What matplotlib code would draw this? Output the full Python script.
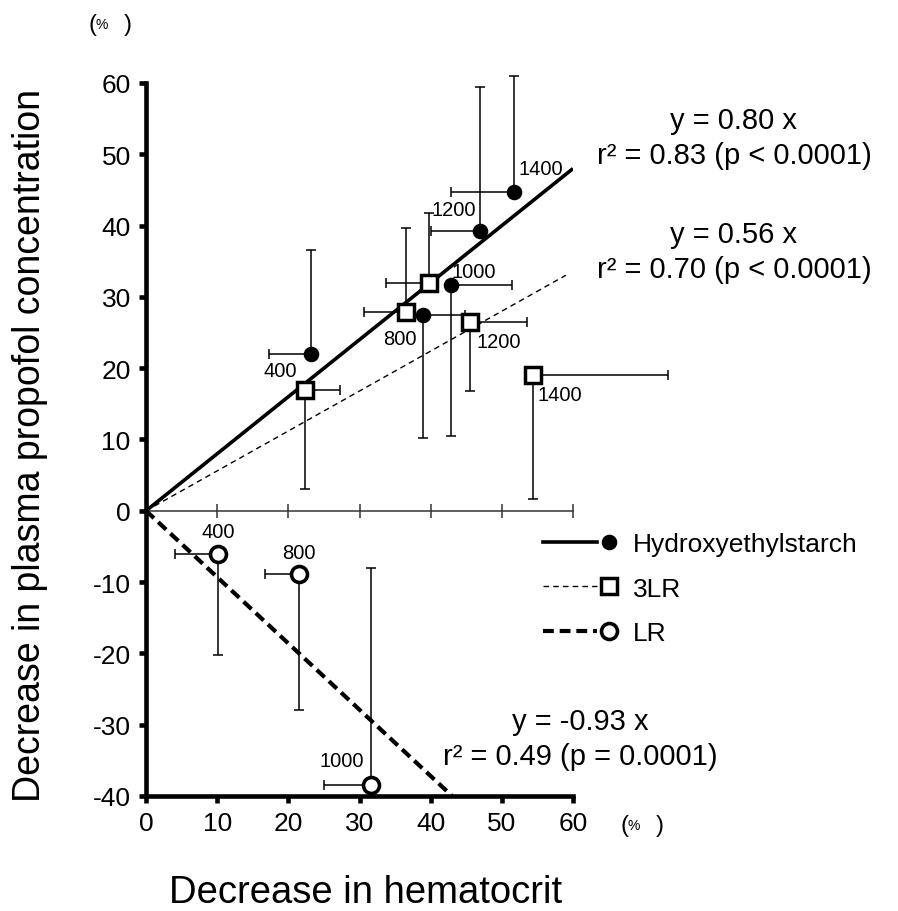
import matplotlib
matplotlib.use("Agg")
import matplotlib.pyplot as plt
from matplotlib.lines import Line2D
from matplotlib.legend_handler import HandlerBase

plt.rcParams['font.family'] = ['Liberation Sans', 'DejaVu Sans']
plt.rcParams['axes.unicode_minus'] = False

# Hydroxyethylstarch (filled circles)
hes_x = [23.2, 38.9, 42.8, 47.0, 51.7]
hes_y = [22.0, 27.4, 31.6, 39.2, 44.7]
hes_xerr_lo = [5.9, 0, 0, 7.0, 8.8]
hes_xerr_hi = [0, 5.9, 8.6, 0, 0]
hes_yerr_lo = [0, 17.2, 21.1, 0, 0]
hes_yerr_hi = [14.6, 0, 0, 20.2, 16.3]
hes_slope = 0.80
hes_fit_x = [0, 60]

# 3LR (open squares)
tlr_x = [22.3, 36.5, 39.8, 45.5, 54.4]
tlr_y = [17.0, 27.9, 32.0, 26.5, 19.1]
tlr_xerr_lo = [0, 5.8, 6.1, 0, 0]
tlr_xerr_hi = [4.9, 0, 0, 8.1, 18.9]
tlr_yerr_lo = [14.0, 0, 0, 9.7, 17.4]
tlr_yerr_hi = [0, 11.7, 9.7, 0, 0]
tlr_slope = 0.56
tlr_fit_x = [0, 59]

# LR (open circles)
lr_x = [10.1, 21.5, 31.6]
lr_y = [-6.0, -8.9, -38.5]
lr_xerr_lo = [6.0, 4.8, 6.6]
lr_xerr_hi = [0, 0, 0]
lr_yerr_lo = [14.2, 19.0, 0]
lr_yerr_hi = [0, 0, 30.5]
lr_slope = -0.93
lr_fit_x = [0, 43]

# dose labels: (text, x, y, offset in points)
dose_labels = [
    ("400", hes_x[0], hes_y[0], (-22, -12)),
    ("800", tlr_x[1], tlr_y[1], (-4, -19)),
    ("1000", hes_x[2], hes_y[2], (17, 10)),
    ("1200", hes_x[3], hes_y[3], (-19, 16)),
    ("1400", hes_x[4], hes_y[4], (19, 17)),
    ("1200", tlr_x[3], tlr_y[3], (21, -14)),
    ("1400", tlr_x[4], tlr_y[4], (19, -14)),
    ("400", lr_x[0], lr_y[0], (0, 16)),
    ("800", lr_x[1], lr_y[1], (0, 16)),
    ("1000", lr_x[2], lr_y[2], (-21, 18)),
]

fig = plt.figure(figsize=(8.98, 9.12), dpi=100)
ax = fig.add_axes([0.1626, 0.1261, 0.4755, 0.7818])
ax.set_xlim(0, 60)
ax.set_ylim(-40, 60)

hes_ls = '-'
tlr_ls = (0, (4, 3))
lr_ls = (0, (2.6, 1.4))

# regression lines
ax.plot(hes_fit_x, [hes_slope * v for v in hes_fit_x], color='black', lw=2.6,
        ls=hes_ls, solid_capstyle='butt', zorder=2)
ax.plot(tlr_fit_x, [tlr_slope * v for v in tlr_fit_x], color='black', lw=1.0,
        ls=tlr_ls, zorder=2)
ax.plot(lr_fit_x, [lr_slope * v for v in lr_fit_x], color='black', lw=3.0,
        ls=lr_ls, zorder=2)

# error bars (one-sided)
for xs, ys, xl, xh, yl, yh in [
        (hes_x, hes_y, hes_xerr_lo, hes_xerr_hi, hes_yerr_lo, hes_yerr_hi),
        (tlr_x, tlr_y, tlr_xerr_lo, tlr_xerr_hi, tlr_yerr_lo, tlr_yerr_hi),
        (lr_x, lr_y, lr_xerr_lo, lr_xerr_hi, lr_yerr_lo, lr_yerr_hi)]:
    eb = ax.errorbar(xs, ys, xerr=[xl, xh], yerr=[yl, yh], fmt='none', ecolor='black',
                     elinewidth=1.1, capsize=3.5, capthick=1.1, zorder=3)
    for a in eb.lines[1] + eb.lines[2]:
        a.set_clip_on(False)

# markers
hes_line, = ax.plot(hes_x, hes_y, 'o', ms=10.2, color='black', zorder=5, clip_on=False)
tlr_line, = ax.plot(tlr_x, tlr_y, 's', ms=11.8, mfc='white', mec='black', mew=2.5,
                    zorder=5, clip_on=False)
lr_line, = ax.plot(lr_x, lr_y, 'o', ms=11.5, mfc='white', mec='black', mew=2.6,
                   zorder=5, clip_on=False)

for txt, x, y, off in dose_labels:
    ax.annotate(txt, (x, y), xytext=off, textcoords='offset points',
                ha='center', va='center', fontsize=14.5)

# axes styling
for s in ['top', 'right']:
    ax.spines[s].set_visible(False)
ax.spines['left'].set_linewidth(3.3)
ax.spines['bottom'].set_linewidth(3.3)
ax.set_xticks(range(0, 61, 10))
ax.set_yticks(range(-40, 61, 10))
ax.tick_params(axis='both', direction='out', length=5, width=3.3, labelsize=19)
ax.tick_params(axis='y', pad=6)
ax.tick_params(axis='x', pad=6)

# thin axis at y = 0
zero_ax = ax.secondary_xaxis(0.4)
zero_ax.set_xticks(range(0, 61, 10))
zero_ax.tick_params(direction='inout', length=10, width=1.1, labelbottom=False,
                    color='#333333')
zero_ax.spines['bottom'].set_linewidth(1.1)
zero_ax.spines['bottom'].set_color('#333333')


# legend: line followed by marker
class LineThenMarker(HandlerBase):
    def create_artists(self, legend, orig_handle, xdescent, ydescent, width, height,
                       fontsize, trans):
        line_h, mark_h = orig_handle
        y = height / 2 - ydescent
        x0 = -xdescent
        ln = Line2D([x0, x0 + width * 0.70], [y, y])
        ln.update_from(line_h)
        ln.set_marker('None')
        mk = Line2D([x0 + width * 0.86], [y])
        mk.update_from(mark_h)
        mk.set_linestyle('None')
        ln.set_transform(trans)
        mk.set_transform(trans)
        return [ln, mk]


hes_leg = Line2D([], [], color='black', lw=2.6, ls=hes_ls)
tlr_leg = Line2D([], [], color='black', lw=1.0, ls=tlr_ls)
lr_leg = Line2D([], [], color='black', lw=3.0, ls=lr_ls)
ax.legend([(hes_leg, hes_line), (tlr_leg, tlr_line), (lr_leg, lr_line)],
          ['Hydroxyethylstarch', '3LR', 'LR'],
          handler_map={tuple: LineThenMarker()},
          loc='upper left', bbox_to_anchor=(543 / 898, 1 - 533 / 912),
          bbox_transform=fig.transFigure, frameon=False, borderpad=0,
          borderaxespad=0, fontsize=19, handlelength=2.9, handletextpad=0.5,
          labelspacing=0.78)

# equations
eq_size = 21
fig.text(734 / 898, 1 - 121 / 912, "y = 0.80 x", ha='center', va='center', fontsize=eq_size)
fig.text(734 / 898, 1 - 156 / 912, "r\u00b2 = 0.83 (p < 0.0001)", ha='center', va='center',
         fontsize=eq_size)
fig.text(734 / 898, 1 - 235 / 912, "y = 0.56 x", ha='center', va='center', fontsize=eq_size)
fig.text(734 / 898, 1 - 270 / 912, "r\u00b2 = 0.70 (p < 0.0001)", ha='center', va='center',
         fontsize=eq_size)
fig.text(580 / 898, 1 - 722 / 912, "y = -0.93 x", ha='center', va='center', fontsize=eq_size)
fig.text(580 / 898, 1 - 757 / 912, "r\u00b2 = 0.49 (p = 0.0001)", ha='center', va='center',
         fontsize=eq_size)

# axis labels
fig.text(366 / 898, 1 - 903 / 912, "Decrease in hematocrit", ha='center', va='baseline',
         fontsize=27.5)
fig.text(30 / 898, 1 - 445 / 912, "Decrease in plasma propofol concentration",
         rotation=90, ha='center', va='center', fontsize=27)

# unit marks
for px, py in [(88, 25), (620, 826)]:
    fig.text(px / 898, 1 - py / 912, "(", ha='left', va='center', fontsize=17)
    fig.text((px + 14) / 898, 1 - py / 912, "%", ha='center', va='center', fontsize=10)
    fig.text((px + 36) / 898, 1 - py / 912, ")", ha='left', va='center', fontsize=17)

fig.savefig('out.png', dpi=100)
